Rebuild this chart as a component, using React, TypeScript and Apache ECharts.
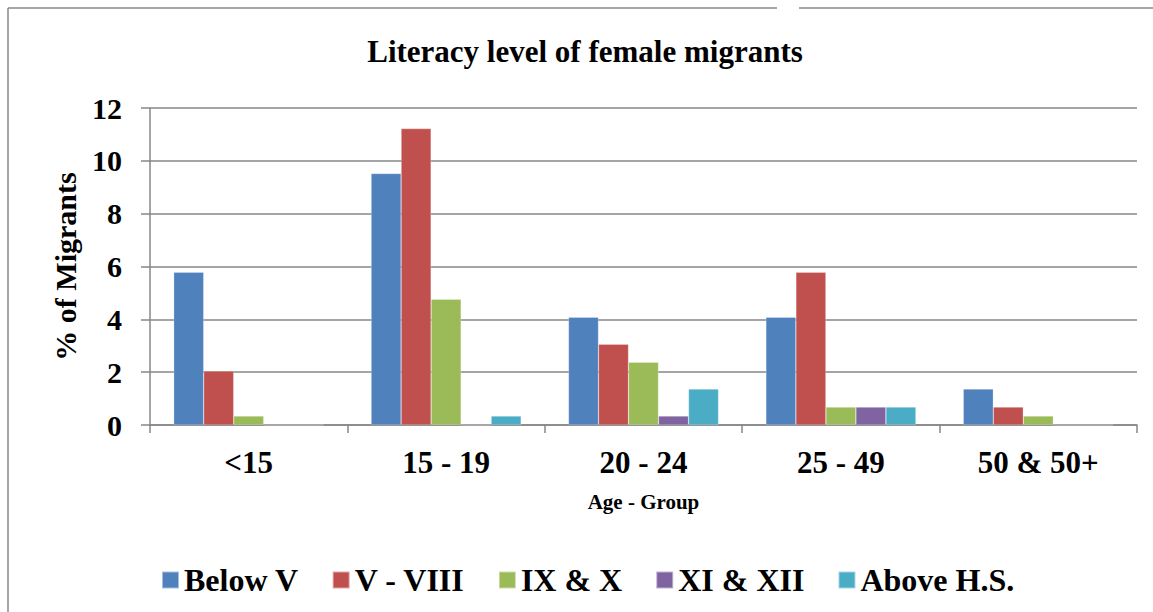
import React, { useEffect, useRef } from "react";
import * as echarts from "echarts";

const categories = ["<15", "15 - 19", "20 - 24", "25 - 49", "50 & 50+"];
const seriesNames = ["Below V", "V - VIII", "IX & X", "XI & XII", "Above H.S."];
const belowV = [5.78, 9.52, 4.08, 4.08, 1.36];
const vToViii = [2.04, 11.22, 3.06, 5.78, 0.68];
const ixX = [0.34, 4.76, 2.38, 0.68, 0.34];
const xiXii = [0, 0, 0.34, 0.68, 0];
const aboveHS = [0, 0.34, 1.36, 0.68, 0];
const colors = ["#4F81BD", "#C0504D", "#9BBB59", "#8064A2", "#4BACC6"];

const FONT = "'Liberation Serif', 'Times New Roman', serif";

export default function App() {
  const ref = useRef<HTMLDivElement>(null);
  useEffect(() => {
    if (!ref.current) return;
    const chart = echarts.init(ref.current, undefined, { renderer: "svg" });
    const data = [belowV, vToViii, ixX, xiXii, aboveHS];
    chart.setOption({
      animation: false,
      backgroundColor: "#ffffff",
      title: {
        text: "Literacy level of female migrants",
        left: 580,
        textAlign: "center",
        top: 31,
        textStyle: { fontFamily: FONT, fontWeight: "bold", fontSize: 31, color: "#000" },
      },
      legend: {
        left: 156,
        top: 559,
        itemWidth: 17,
        itemHeight: 17,
        itemGap: 33,
        icon: "rect",
        textStyle: { fontFamily: FONT, fontWeight: "bold", fontSize: 32, color: "#000", padding: [0, 0, 0, 0] },
        data: seriesNames,
      },
      grid: { left: 150, right: 16, top: 108, bottom: 187, containLabel: false },
      xAxis: {
        type: "category",
        data: categories,
        name: "Age - Group",
        nameLocation: "middle",
        nameGap: 66,
        nameTextStyle: { fontFamily: FONT, fontWeight: "bold", fontSize: 21, color: "#000" },
        axisLine: { lineStyle: { color: "#878787", width: 1.5 } },
        axisTick: { show: true, length: 8, lineStyle: { color: "#878787", width: 1.5 } },
        axisLabel: { fontFamily: FONT, fontWeight: "bold", fontSize: 31, color: "#000", margin: 22 },
      },
      yAxis: {
        type: "value",
        min: 0,
        max: 12,
        interval: 2,
        name: "% of Migrants",
        nameLocation: "middle",
        nameGap: 70,
        nameTextStyle: { fontFamily: FONT, fontWeight: "bold", fontSize: 30, color: "#000" },
        axisLine: { show: true, lineStyle: { color: "#878787", width: 1.5 } },
        axisTick: { show: true, length: 9, lineStyle: { color: "#878787", width: 1.5 } },
        axisLabel: { fontFamily: FONT, fontWeight: "bold", fontSize: 30, color: "#000", margin: 28 },
        splitLine: { lineStyle: { color: "#878787", width: 1.5 } },
      },
      series: seriesNames.map((name, i) => ({
        name,
        type: "bar",
        data: data[i],
        barGap: "0%",
        barCategoryGap: "24%",
        itemStyle: { color: colors[i], borderColor: "rgba(255,255,255,0.5)", borderWidth: 0.5 },
      })),
      graphic: [
        { type: "line", shape: { x1: 8, y1: 8, x2: 777, y2: 8 }, style: { stroke: "#888", lineWidth: 1.5 } },
        { type: "line", shape: { x1: 799, y1: 8, x2: 1153, y2: 8 }, style: { stroke: "#888", lineWidth: 1.5 } },
        { type: "line", shape: { x1: 8, y1: 8, x2: 8, y2: 612 }, style: { stroke: "#888", lineWidth: 1.5 } },
      ],
    });
    return () => chart.dispose();
  }, []);
  return (
    <div
      ref={ref}
      style={{ position: "absolute", left: 0, top: 0, width: 1153, height: 612 }}
    />
  );
}
